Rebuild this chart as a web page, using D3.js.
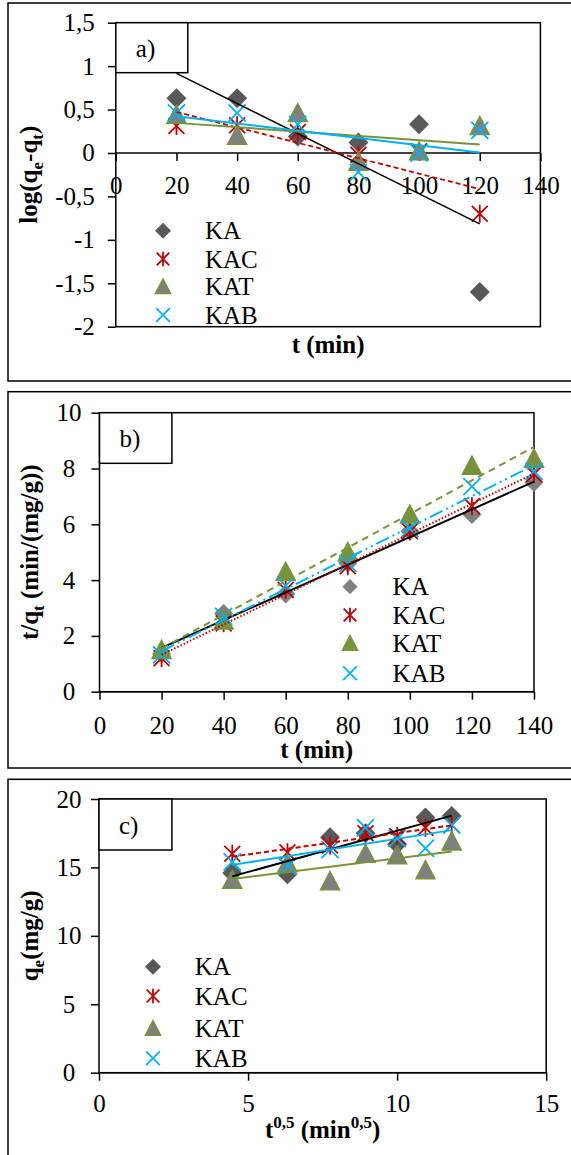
<!DOCTYPE html>
<html>
<head>
<meta charset="utf-8">
<script src="https://cdn.jsdelivr.net/npm/d3@7"></script>
<style>
  body { margin: 0; background: #fff; }
  svg text { font-family: "Liberation Serif", "Times New Roman", "Tinos", "DejaVu Serif", serif; fill: #000; }
</style>
</head>
<body>
<svg id="chart" width="571" height="1155"></svg>
<script>
// ---------- data ----------
var seriesNames = ["KA", "KAC", "KAT", "KAB"];

// a) log(qe-qt) vs t
var tA = [20, 40, 60, 80, 100, 120];
var aKA  = [0.63, 0.63, 0.19, 0.12, 0.33, -1.6];
var aKAC = [0.31, 0.32, 0.24, -0.02, 0.02, -0.7];
var aKAT = [0.44, 0.2, 0.46, -0.1, 0.02, 0.31];
var aKAB = [0.46, 0.46, 0.33, -0.22, 0.0, 0.26];
var aXTicks = [0, 20, 40, 60, 80, 100, 120, 140];
var aYTicks = [-2, -1.5, -1, -0.5, 0, 0.5, 1, 1.5];

// b) t/qt vs t
var tB = [20, 40, 60, 80, 100, 120, 140];
var bKA  = [1.35, 2.8, 3.5, 4.6, 5.75, 6.35, 7.5];
var bKAC = [1.2, 2.45, 3.65, 4.5, 5.75, 6.65, 7.8];
var bKAT = [1.5, 2.55, 4.3, 5.0, 6.35, 8.1, 8.35];
var bKAB = [1.32, 2.7, 3.8, 4.6, 5.85, 7.35, 7.9];
var bXTicks = [0, 20, 40, 60, 80, 100, 120, 140];
var bYTicks = [0, 2, 4, 6, 8, 10];

// c) qe vs t^0.5
var tC = [4.47, 6.32, 7.75, 8.94, 10, 10.95, 11.83];
var cKA  = [14.6, 14.5, 17.2, 17.5, 16.7, 18.65, 18.75];
var cKAC = [16.0, 16.1, 16.6, 17.5, 17.3, 17.9, 18.1];
var cKAT = [14.1, 15.3, 14.0, 16.0, 15.9, 14.8, 16.9];
var cKAB = [15.4, 15.1, 16.3, 17.9, 17.1, 16.4, 18.1];
var cXTicks = [0, 5, 10, 15];
var cYTicks = [0, 5, 10, 15, 20];

// ---------- helpers ----------
var FONT = '"Liberation Serif", "Times New Roman", Tinos, "DejaVu Serif", serif';
var svg = d3.select("#chart");
var fmt = d => String(d).replace(".", ",");

var RED = "#c00000", OLIVE = "#77933c", CYAN = "#00b0f0";

// least squares line between first and last x
function fit(xs, ys) {
  var mx = d3.mean(xs), my = d3.mean(ys);
  var sxy = d3.sum(xs, (x, i) => (x - mx) * (ys[i] - my));
  var sxx = d3.sum(xs, x => (x - mx) * (x - mx));
  var b = sxy / sxx, a = my - b * mx;
  var x0 = d3.min(xs), x1 = d3.max(xs);
  return [[x0, a + b * x0], [x1, a + b * x1]];
}

function marker(g, type, cx, cy, r, st) {
  if (type == "diamond") {
    g.append("path")
      .attr("d", `M${cx},${cy - r}L${cx + r},${cy}L${cx},${cy + r}L${cx - r},${cy}Z`)
      .attr("fill", st.fill);
  } else if (type == "star") {
    var k = r * 0.88;
    g.append("path")
      .attr("d", `M${cx - k},${cy - k}L${cx + k},${cy + k}M${cx - k},${cy + k}L${cx + k},${cy - k}M${cx},${cy - r}L${cx},${cy + r}`)
      .attr("stroke", RED).attr("stroke-width", 1.8).attr("fill", "none");
  } else if (type == "tri") {
    g.append("path")
      .attr("d", `M${cx},${cy - r}L${cx + r},${cy + r * 0.9}L${cx - r},${cy + r * 0.9}Z`)
      .attr("fill", st.fill).attr("stroke", st.stroke).attr("stroke-width", 1.5);
  } else {
    var k = r * 0.9;
    g.append("path")
      .attr("d", `M${cx - k},${cy - k}L${cx + k},${cy + k}M${cx - k},${cy + k}L${cx + k},${cy - k}`)
      .attr("stroke", CYAN).attr("stroke-width", 1.8).attr("fill", "none");
  }
}

function drawPanel(p) {
  var g = svg.append("g").attr("font-family", FONT);

  // outer frame
  g.append("rect").attr("x", p.frame[0]).attr("y", p.frame[1])
    .attr("width", p.frame[2]).attr("height", p.frame[3])
    .attr("fill", "none").attr("stroke", "#000").attr("stroke-width", 1.5);

  var x = d3.scaleLinear().domain(p.xDomain).range([p.plot[0], p.plot[1]]);
  var y = d3.scaleLinear().domain(p.yDomain).range([p.plot[3], p.plot[2]]);

  // plot area border
  g.append("rect").attr("x", p.plot[0]).attr("y", p.plot[2])
    .attr("width", p.plot[1] - p.plot[0]).attr("height", p.plot[3] - p.plot[2])
    .attr("fill", "none").attr("stroke", "#000").attr("stroke-width", 1.5);

  // y axis
  var ya = g.append("g").attr("transform", `translate(${p.plot[0]},0)`)
    .call(d3.axisLeft(y).tickValues(p.yTicks).tickFormat(fmt).tickSize(8).tickPadding(p.yPad));
  ya.attr("font-family", FONT).attr("font-size", 25);
  ya.select(".domain").remove();
  ya.selectAll("line").attr("stroke", "#000").attr("stroke-width", 1.5);
  if (p.yLabelCenter != null) {
    ya.selectAll("text").attr("text-anchor", "middle").attr("x", p.yLabelCenter - p.plot[0]);
  }

  // x axis (crossing at y = p.xAxisAt)
  var ax = y(p.xAxisAt);
  var xa = g.append("g").attr("transform", `translate(0,${ax})`)
    .call(d3.axisBottom(x).tickValues(p.xTicks).tickFormat(fmt).tickSize(8).tickPadding(p.xPad));
  xa.attr("font-family", FONT).attr("font-size", 25);
  xa.select(".domain").remove();
  xa.selectAll("line").attr("stroke", "#000").attr("stroke-width", 1.5);
  g.append("line").attr("x1", p.plot[0]).attr("x2", p.plot[1]).attr("y1", ax).attr("y2", ax)
    .attr("stroke", "#000").attr("stroke-width", 1.5);

  // markers, KA first, KAB on top
  var mg = g.append("g");
  p.series.forEach(s => {
    p.xs.forEach((xv, i) => marker(mg, s.type, x(xv), y(s.values[i]), s.r, s.st));
  });

  // linear trendlines
  var line = d3.line().x(d => x(d[0])).y(d => y(d[1]));
  p.series.forEach(s => {
    g.append("path").attr("d", line(fit(p.xs, s.values)))
      .attr("fill", "none").attr("stroke", s.lineColor).attr("stroke-width", s.lineWidth)
      .attr("stroke-dasharray", s.dash || null);
  });

  // legend
  p.series.forEach((s, i) => {
    marker(g, s.type, p.legend.mx, p.legend.ys[i], s.r * 0.8, s.st);
    g.append("text").attr("x", p.legend.tx).attr("y", p.legend.ys[i]).attr("dy", "0.34em")
      .attr("font-size", 25).text(seriesNames[i]);
  });

  // label box
  g.append("rect").attr("x", p.box[0]).attr("y", p.box[1]).attr("width", p.box[2]).attr("height", p.box[3])
    .attr("fill", "#fff").attr("stroke", "#000").attr("stroke-width", 1.5);
  g.append("text").attr("x", p.box[0] + 20).attr("y", p.box[1] + p.box[3] / 2 + 9)
    .attr("font-size", 25).text(p.label);

  // axis titles
  var xt = g.append("text").attr("x", (p.plot[0] + p.plot[1]) / 2).attr("y", p.xTitleY)
    .attr("text-anchor", "middle").attr("font-size", 25).attr("font-weight", "bold");
  p.xTitle.forEach(part => xt.append("tspan").attr("dy", part[1]).attr("font-size", part[2] || 25).text(part[0]));

  var yt = g.append("text")
    .attr("transform", `translate(${p.yTitleX},${(p.plot[2] + p.plot[3]) / 2}) rotate(-90)`)
    .attr("text-anchor", "middle").attr("font-size", 25).attr("font-weight", "bold");
  p.yTitle.forEach(part => yt.append("tspan").attr("dy", part[1]).attr("font-size", part[2] || 25).text(part[0]));
}

var styleAC = [
  { type: "diamond", st: { fill: "#595959" }, r: 10 },
  { type: "star", st: {}, r: 9 },
  { type: "tri", st: { fill: "#7f7f7f", stroke: OLIVE }, r: 9.5 },
  { type: "x", st: {}, r: 9.5 }
];
var styleB = [
  { type: "diamond", st: { fill: "#808080" }, r: 9.5 },
  { type: "star", st: {}, r: 9 },
  { type: "tri", st: { fill: OLIVE, stroke: OLIVE }, r: 9.5 },
  { type: "x", st: {}, r: 9.5 }
];

function build(styles, vals, lines) {
  return styles.map((s, i) => Object.assign({}, s, { values: vals[i] }, lines[i]));
}

// ---------- panel a ----------
drawPanel({
  frame: [8, 3, 600, 378],
  plot: [115.8, 540.4, 22.7, 326.7],
  xDomain: [0, 140], yDomain: [-2, 1.5],
  xTicks: aXTicks, yTicks: aYTicks, xAxisAt: 0,
  yPad: 13, xPad: 15,
  xs: tA,
  series: build(styleAC, [aKA, aKAC, aKAT, aKAB], [
    { lineColor: "#000", lineWidth: 1.5 },
    { lineColor: RED, lineWidth: 1.75, dash: "5,3" },
    { lineColor: OLIVE, lineWidth: 2 },
    { lineColor: CYAN, lineWidth: 2 }
  ]),
  legend: { mx: 163, tx: 205, ys: [230.7, 259, 286.7, 315] },
  box: [115.8, 22.7, 72, 50], label: "a)",
  xTitle: [["t (min)", 0]], xTitleY: 353,
  yTitleX: 37,
  yTitle: [["log(q", 0], ["e", 6, 17], ["-q", -6], ["t", 6, 17], [")", -6]]
});

// ---------- panel b ----------
drawPanel({
  frame: [8, 391.7, 600, 376.3],
  plot: [99.5, 534, 412.7, 691.7],
  xDomain: [0, 140], yDomain: [0, 10],
  xTicks: bXTicks, yTicks: bYTicks, xAxisAt: 0,
  yPad: 14, xPad: 17, yLabelCenter: 69,
  xs: tB,
  series: build(styleB, [bKA, bKAC, bKAT, bKAB], [
    { lineColor: "#000", lineWidth: 2 },
    { lineColor: RED, lineWidth: 2, dash: "1.5,2" },
    { lineColor: OLIVE, lineWidth: 2, dash: "7,5" },
    { lineColor: CYAN, lineWidth: 2, dash: "14,4,2,4,2,4" }
  ]),
  legend: { mx: 350, tx: 392.6, ys: [586.7, 615, 643.3, 673.3] },
  box: [99.5, 412.7, 72.4, 50.6], label: "b)",
  xTitle: [["t (min)", 0]], xTitleY: 758,
  yTitleX: 37.5,
  yTitle: [["t/q", 0], ["t", 6, 17], [" (min/(mg/g))", -6]]
});

// ---------- panel c ----------
drawPanel({
  frame: [8, 779.3, 600, 400],
  plot: [99, 546.2, 799, 1072.7],
  xDomain: [0, 15], yDomain: [0, 20],
  xTicks: cXTicks, yTicks: cYTicks, xAxisAt: 0,
  yPad: 14, xPad: 14, yLabelCenter: 69,
  xs: tC,
  series: build(styleAC, [cKA, cKAC, cKAT, cKAB], [
    { lineColor: "#000", lineWidth: 2 },
    { lineColor: RED, lineWidth: 2, dash: "5,3" },
    { lineColor: OLIVE, lineWidth: 2 },
    { lineColor: CYAN, lineWidth: 2 }
  ]),
  legend: { mx: 153, tx: 194.8, ys: [966.7, 996, 1028.3, 1058.3] },
  box: [99, 799, 72.9, 51], label: "c)",
  xTitle: [["t", 0], ["0,5", -10, 17], [" (min", 10], ["0,5", -10, 17], [")", 10]], xTitleY: 1138,
  yTitleX: 37.5,
  yTitle: [["q", 0], ["e", 6, 17], ["(mg/g)", -6]]
});
</script>
</body>
</html>
